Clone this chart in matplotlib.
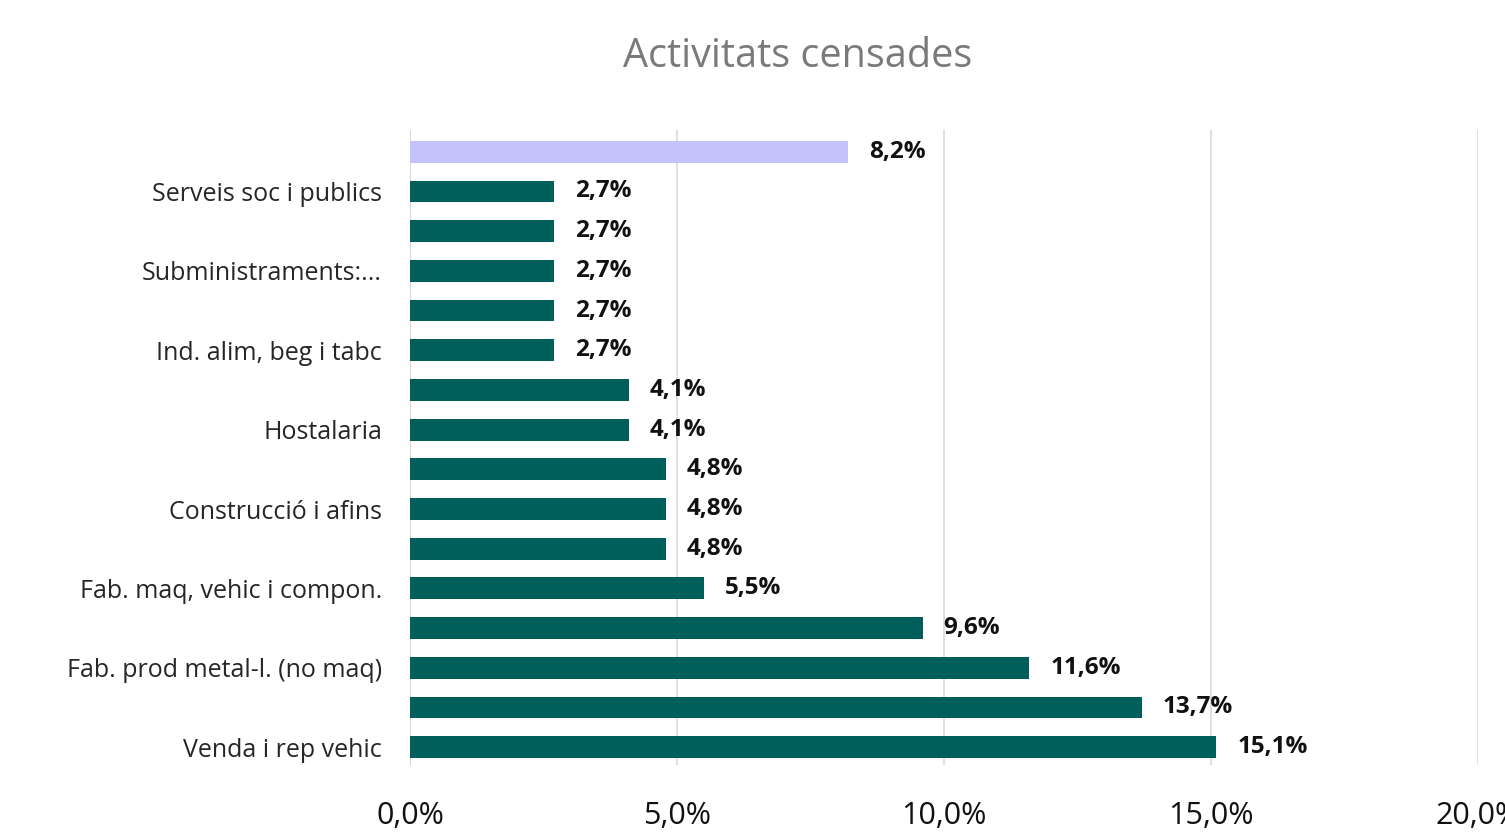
import matplotlib.pyplot as plt

categories = ['Venda i rep vehic', '', 'Fab. prod metal-l. (no maq)', '',
              'Fab. maq, vehic i compon.', '', 'Construcció i afins', '',
              'Hostalaria', '', 'Ind. alim, beg i tabc', '',
              'Subministraments:...', '', 'Serveis soc i publics', '']
values = [15.1, 13.7, 11.6, 9.6, 5.5, 4.8, 4.8, 4.8, 4.1, 4.1,
          2.7, 2.7, 2.7, 2.7, 2.7, 8.2]
value_labels = ['15,1%', '13,7%', '11,6%', '9,6%', '5,5%', '4,8%', '4,8%', '4,8%',
                '4,1%', '4,1%', '2,7%', '2,7%', '2,7%', '2,7%', '2,7%', '8,2%']
xticks = [0, 5, 10, 15, 20]
xtick_labels = ['0,0%', '5,0%', '10,0%', '15,0%', '20,0%']

plt.rcParams['font.family'] = ['Open Sans', 'DejaVu Sans']

fig = plt.figure(figsize=(15.05, 8.38), dpi=100)
ax = fig.add_axes([0.2724, 0.0871, 0.7096, 0.7578])

colors = ['#005f5a'] * (len(values) - 1) + ['#c4c2fb']
pos = list(range(len(values)))
ax.barh(pos, values, height=0.55, color=colors, zorder=3)

for p, v, lab in zip(pos, values, value_labels):
    ax.annotate(lab, (v, p), xytext=(15, 0), textcoords='offset points',
                va='center', ha='left', fontsize=17.5, fontweight='bold', color='#111111')

ax.set_yticks(pos)
ax.set_yticklabels(categories, fontsize=18, color='#262626')
ax.set_xticks(xticks)
ax.set_xticklabels(xtick_labels, fontsize=22, color='#111111')
ax.set_xlim(0, 20)
ax.set_ylim(-0.45, 15.55)

ax.tick_params(axis='y', length=0, pad=20)
ax.tick_params(axis='x', length=0, pad=26)
ax.grid(axis='x', color='#d9d9d9', linewidth=1.2, zorder=0)
for s in ['top', 'right', 'bottom']:
    ax.spines[s].set_visible(False)
ax.spines['left'].set_color('#d9d9d9')

fig.text(0.53, 0.932, 'Activitats censades', ha='center', va='center',
         fontsize=28.5, color='#7a7a7a')

fig.savefig('out.png', dpi=100)
